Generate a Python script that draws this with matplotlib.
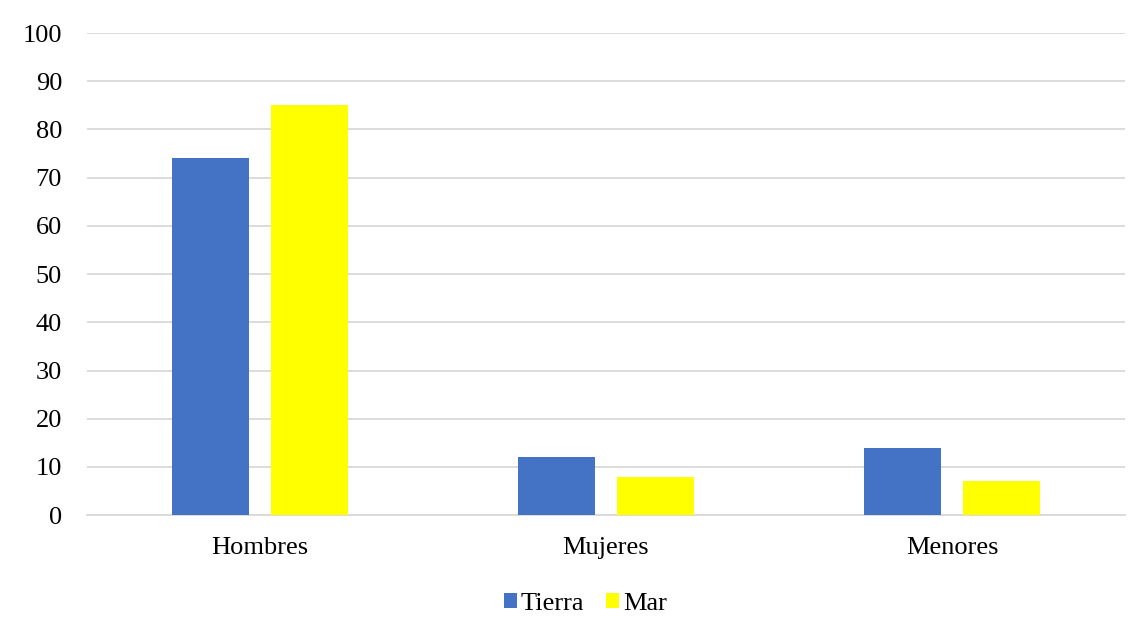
import numpy as np
import matplotlib.pyplot as plt

# Categories and series values
categorias = ["Hombres", "Mujeres", "Menores"]
tierra = [74, 12, 14]
mar = [85, 8, 7]

plt.rcParams["font.family"] = ["Liberation Serif", "DejaVu Serif"]

fig = plt.figure(figsize=(11.45, 6.36), dpi=100)
ax = fig.add_axes([0.076, 0.190, 0.9065, 0.758])

x = np.arange(len(categorias))
ancho = 0.225
desplazamiento = 0.143

ax.bar(x - desplazamiento, tierra, ancho, color="#4472C4", label="Tierra", zorder=3)
ax.bar(x + desplazamiento, mar, ancho, color="#FFFF00", label="Mar", zorder=3)

ax.set_xlim(-0.5, 2.5)
ax.set_ylim(0, 100)
ax.set_yticks(range(0, 101, 10))
ax.set_xticks(x)
ax.set_xticklabels(categorias)

ax.grid(axis="y", color="#D9D9D9", linewidth=1.3, zorder=0)
for lado in ["top", "right", "left"]:
    ax.spines[lado].set_visible(False)
ax.spines["bottom"].set_color("#D9D9D9")
ax.spines["bottom"].set_linewidth(1.3)
ax.tick_params(axis="both", length=0, labelsize=19, colors="black")
ax.tick_params(axis="y", pad=18)
ax.tick_params(axis="x", pad=16)

ax.legend(loc="center", bbox_to_anchor=(0.48, -0.185), ncol=2, frameon=False,
          fontsize=19, handlelength=0.5, handleheight=0.5, handletextpad=0.15,
          columnspacing=0.8)

fig.savefig("out.png", dpi=100)
